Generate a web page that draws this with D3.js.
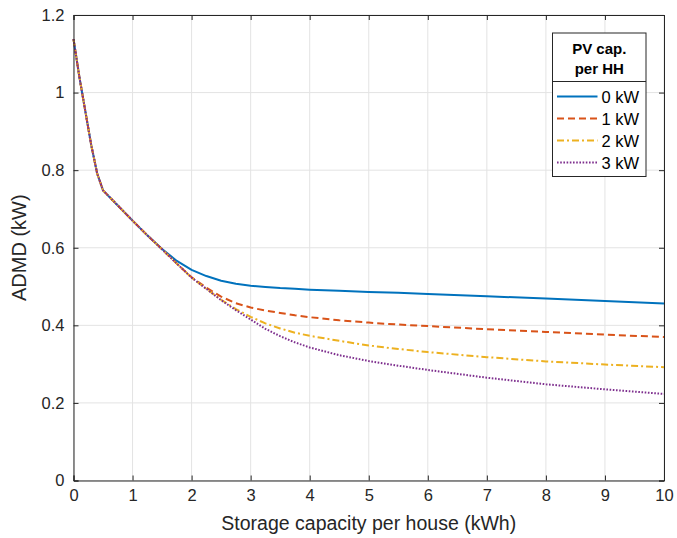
<!DOCTYPE html>
<html><head><meta charset="utf-8">
<script src="https://cdn.jsdelivr.net/npm/d3@7"></script>
<style>body{margin:0;background:#fff}svg{display:block;font-family:"Liberation Sans",Arial,Helvetica,sans-serif}</style>
</head><body><svg id="c" width="677" height="538"></svg>
<script>
const storage = [0,0.1,0.2,0.3,0.4,0.5,0.75,1,1.25,1.5,1.75,2,2.25,2.5,2.75,3,3.25,3.5,3.75,4,4.5,5,5.5,6,7,8,9,10];
const pv0 = [1.138,1.04,0.952,0.865,0.792,0.748,0.709,0.670,0.632,0.597,0.566,0.543,0.527,0.515,0.507,0.502,0.499,0.496,0.494,0.492,0.489,0.486,0.484,0.481,0.475,0.469,0.463,0.456];
const pv1 = [1.138,1.04,0.952,0.865,0.792,0.748,0.709,0.670,0.632,0.596,0.559,0.524,0.497,0.474,0.457,0.446,0.438,0.432,0.426,0.421,0.413,0.407,0.402,0.398,0.390,0.383,0.376,0.370];
const pv2 = [1.138,1.04,0.952,0.865,0.792,0.748,0.709,0.670,0.632,0.596,0.559,0.523,0.494,0.466,0.442,0.422,0.405,0.392,0.381,0.373,0.360,0.348,0.339,0.331,0.318,0.307,0.299,0.292];
const pv3 = [1.138,1.04,0.952,0.865,0.792,0.748,0.709,0.670,0.632,0.596,0.559,0.523,0.494,0.465,0.439,0.415,0.391,0.372,0.356,0.343,0.323,0.308,0.296,0.285,0.265,0.248,0.235,0.223];
const seriesNames = ["0 kW","1 kW","2 kW","3 kW"];
const xTicks = [0,1,2,3,4,5,6,7,8,9,10];
const yTicks = [0,0.2,0.4,0.6,0.8,1,1.2];
const yTickLabels = ["0","0.2","0.4","0.6","0.8","1","1.2"];
const legendTitle = ["PV cap.","per HH"];
const xLabel = "Storage capacity per house (kWh)";
const yLabel = "ADMD (kW)";

const colors = ["#0072BD","#D95319","#EDB120","#7E2F8E"];
const dashes = [null,"7,4","7,3,2,3","1.6,1.6"];
const allSeries = [pv0,pv1,pv2,pv3];

const svg = d3.select("#c");
const L=73.5, R=664, T=15, B=480.5;
const x = d3.scaleLinear().domain([0,10]).range([L,R]);
const y = d3.scaleLinear().domain([0,1.2]).range([B,T]);
const axisCol = "#262626", txtCol="#262626";

// grid
const g = svg.append("g");
g.selectAll(".gx").data(xTicks).join("line").attr("x1",d=>x(d)).attr("x2",d=>x(d)).attr("y1",T).attr("y2",B).attr("stroke","#e3e3e3").attr("stroke-width",1);
g.selectAll(".gy").data(yTicks).join("line").attr("y1",d=>y(d)).attr("y2",d=>y(d)).attr("x1",L).attr("x2",R).attr("stroke","#e3e3e3").attr("stroke-width",1);

// lines
const line = d3.line().x((d,i)=>x(storage[i])).y(d=>y(d)).curve(d3.curveLinear);
[0,1,2,3].forEach(k=>{
  svg.append("path").datum(allSeries[k]).attr("d",line).attr("fill","none")
    .attr("stroke",colors[k]).attr("stroke-width",2).attr("stroke-linejoin","round")
    .attr("stroke-dasharray",dashes[k]);
});

// axes
const ax = svg.append("g").attr("transform",`translate(0,${B})`).call(d3.axisBottom(x).tickValues(xTicks).tickSize(-5).tickPadding(9).tickFormat(d3.format("d")));
const axT = svg.append("g").attr("transform",`translate(0,${T})`).call(d3.axisTop(x).tickValues(xTicks).tickSize(-5).tickFormat(""));
const ay = svg.append("g").attr("transform",`translate(${L},0)`).call(d3.axisLeft(y).tickValues(yTicks).tickSize(-5).tickPadding(9).tickFormat((d,i)=>yTickLabels[i]));
const ayR = svg.append("g").attr("transform",`translate(${R},0)`).call(d3.axisRight(y).tickValues(yTicks).tickSize(-5).tickFormat(""));
[ax,axT,ay,ayR].forEach(a=>{
  a.select(".domain").attr("stroke",axisCol).attr("stroke-width",1);
  a.selectAll(".tick line").attr("stroke",axisCol);
  a.selectAll("text").attr("fill",txtCol).style("font-size","16.5px").style("font-family","'Liberation Sans',Arial,sans-serif");
});

// axis labels
svg.append("text").attr("x",(L+R)/2).attr("y",530).attr("text-anchor","middle").attr("fill",txtCol).style("font-size","19.5px").text(xLabel);
svg.append("text").attr("transform",`translate(26,${(T+B)/2}) rotate(-90)`).attr("text-anchor","middle").attr("fill",txtCol).style("font-size","20px").text(yLabel);

// legend
const lg = svg.append("g");
const lx0=552.5, lx1=646, ly0=33, ly1=176.5;
lg.append("rect").attr("x",lx0).attr("y",ly0).attr("width",lx1-lx0).attr("height",ly1-ly0).attr("fill","#fff").attr("stroke",axisCol).attr("stroke-width",1);
lg.append("line").attr("x1",lx0).attr("x2",lx1).attr("y1",81.5).attr("y2",81.5).attr("stroke",axisCol);
legendTitle.forEach((t,i)=>{
  lg.append("text").attr("x",(lx0+lx1)/2).attr("y",53.5+i*20.5).attr("text-anchor","middle").attr("fill","#000").style("font-size","15px").style("font-weight","bold").text(t);
});
seriesNames.forEach((n,k)=>{
  const yy = 96.5 + k*22;
  lg.append("line").attr("x1",557).attr("x2",597.5).attr("y1",yy).attr("y2",yy).attr("stroke",colors[k]).attr("stroke-width",2).attr("stroke-dasharray",dashes[k]);
  lg.append("text").attr("x",601.5).attr("y",yy+6).attr("fill","#000").style("font-size","16.5px").text(n);
});
</script></body></html>
